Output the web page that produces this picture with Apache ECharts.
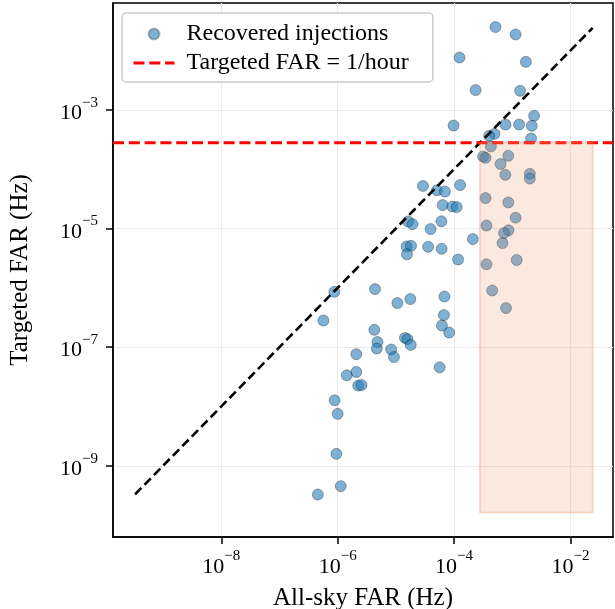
<!DOCTYPE html>
<html>
<head>
<meta charset="utf-8">
<script src="https://cdn.jsdelivr.net/npm/echarts@6/dist/echarts.min.js"></script>
<style>
  html, body { margin: 0; padding: 0; background: #ffffff; }
  #far-scatter { width: 615px; height: 609px; }
</style>
</head>
<body>
<div id="far-scatter"></div>
<script>
// all-sky FAR (Hz) of every recovered injection
const allSkyFar = [
  5.15e-4, 1.14e-3, 1.24e-4, 1.71e-3, 2.34e-4, 1.36e-3, 9.8e-5, 2.37e-3, 7.64e-4, 1.31e-3,
  2.16e-3, 2.10e-3, 4.95e-4, 4.0e-4, 4.28e-4, 3.15e-4, 3.47e-4, 8.53e-4, 6.28e-4, 7.59e-4,
  2.0e-3, 2.0e-3, 2.92e-5, 5.07e-5, 6.95e-5, 1.27e-4, 3.47e-4, 6.35e-5, 9.35e-5, 1.11e-4,
  8.53e-4, 1.14e-3, 1.63e-5, 1.93e-5, 6.05e-5, 3.95e-5, 3.6e-4, 8.61e-4, 7.21e-4, 6.79e-4,
  2.1e-4, 1.53e-5, 1.82e-5, 3.58e-5, 6.11e-5, 1.55e-5, 1.17e-4, 3.6e-4, 1.19e-3, 4.51e-4,
  7.8e-4, 8.77e-7, 5.69e-7, 4.38e-6, 1.06e-5, 1.77e-5, 6.83e-5, 6.68e-5, 6.18e-5, 8.24e-5,
  4.26e-6, 4.83e-6, 4.7e-6, 8.3e-6, 9.27e-6, 1.43e-5, 1.58e-5, 1.8e-5, 2.09e-6, 2.09e-6,
  1.43e-6, 2.25e-6, 2.57e-6, 5.64e-5, 8.85e-7, 1.0e-6, 9.5e-7, 1.13e-6, 4.56e-7
];
// targeted FAR (Hz), same order
const targetedFar = [
  2.48e-2, 1.86e-2, 7.61e-3, 6.44e-3, 2.15e-3, 2.09e-3, 5.44e-4, 7.92e-4, 5.65e-4, 5.65e-4,
  5.37e-4, 3.28e-4, 3.94e-4, 3.65e-4, 2.41e-4, 1.63e-4, 1.55e-4, 1.68e-4, 1.22e-4, 8.02e-5,
  8.34e-5, 6.93e-5, 5.2e-5, 4.4e-5, 4.18e-5, 5.38e-5, 3.25e-5, 2.48e-5, 2.34e-5, 2.29e-5,
  2.74e-5, 1.52e-5, 1.31e-5, 1.18e-5, 1.32e-5, 9.75e-6, 1.12e-5, 9.31e-6, 8.36e-6, 5.67e-6,
  6.62e-6, 4.97e-6, 5.1e-6, 4.91e-6, 4.54e-6, 3.67e-6, 3.0e-6, 2.49e-6, 2.94e-6, 9.0e-7,
  4.56e-7, 8.56e-7, 2.81e-7, 9.5e-7, 5.52e-7, 6.45e-7, 7.13e-7, 3.47e-7, 2.31e-7, 1.76e-7,
  1.96e-7, 1.22e-7, 9.48e-8, 9.12e-8, 6.79e-8, 1.43e-7, 1.36e-7, 1.09e-7, 7.62e-8, 3.81e-8,
  3.35e-8, 2.25e-8, 2.3e-8, 4.57e-8, 1.27e-8, 7.52e-9, 1.59e-9, 4.54e-10, 3.28e-10
];

const targetFar = 1 / 3600;            // 1 per hour
const diagonalEnds = [3.3e-10, 2.4e-2]; // y = x guide
const boxFarX = [1 / 3600, 2.4e-2];
const boxFarY = [1.63e-10, 1 / 3600];
const xTicks = [1e-8, 1e-6, 1e-4, 1e-2];
const yTicks = [1e-9, 1e-7, 1e-5, 1e-3];
const xRange = [Math.pow(10, -9.86), Math.pow(10, -1.27)];
const yRange = [Math.pow(10, -10.2), Math.pow(10, -1.2)];

const FONT = "Liberation Serif";

function powerLabel(value) {
  const exp = Math.round(Math.log10(value));
  return "{base|10}{exp|" + (exp < 0 ? "\u2212" + (-exp) : exp) + "}";
}

const richPow = {
  base: { fontFamily: FONT, fontSize: 22, color: "#000", verticalAlign: "bottom", padding: [7, 0, 0, 0] },
  exp: { fontFamily: FONT, fontSize: 15, color: "#000", verticalAlign: "top" },
};

const points = allSkyFar.map((x, i) => [x, targetedFar[i]]);

const options = {
  animation: false,
  backgroundColor: "#ffffff",
  grid: {
    left: 113,
    right: 2,
    top: 3,
    bottom: 72,
    outerBoundsMode: "none",
    containLabel: false,
    show: true,
    borderColor: "#000",
    borderWidth: 1.5,
  },
  legend: {
    left: 122,
    top: 13,
    orient: "vertical",
    padding: [9, 24, 7, 10],
    itemWidth: 41,
    itemHeight: 11,
    itemGap: 5,
    backgroundColor: "rgba(255,255,255,0.85)",
    borderColor: "#cccccc",
    borderWidth: 1.5,
    borderRadius: 4,
    textStyle: {
      fontFamily: FONT,
      fontSize: 24,
      lineHeight: 20,
      color: "#000",
      padding: [0, 0, 0, 7],
    },
    data: [
      { name: "Recovered injections", icon: "circle", itemStyle: { borderColor: "rgba(0,0,0,0.3)" } },
      {
        name: "Targeted FAR = 1/hour",
        itemStyle: { opacity: 0 },
        lineStyle: { color: "#ff0000", width: 3, type: [11, 4.8] },
      },
    ],
  },
  xAxis: {
    type: "log",
    logBase: 10,
    min: xRange[0],
    max: xRange[1],
    name: "All-sky FAR (Hz)",
    nameLocation: "middle",
    nameGap: 49,
    nameTextStyle: { fontFamily: FONT, fontSize: 25, color: "#000" },
    axisLine: { show: true, lineStyle: { color: "#000", width: 1.5 } },
    axisTick: { show: true, length: 7, lineStyle: { color: "#000", width: 1.5 }, customValues: xTicks },
    axisLabel: { customValues: xTicks, margin: 12, formatter: powerLabel, rich: richPow },
    minorTick: { show: false },
    splitLine: { show: true, lineStyle: { color: "#ebebeb", width: 1 } },
  },
  yAxis: {
    type: "log",
    logBase: 10,
    min: yRange[0],
    max: yRange[1],
    name: "Targeted FAR (Hz)",
    nameLocation: "middle",
    nameGap: 80,
    nameTextStyle: { fontFamily: FONT, fontSize: 25, color: "#000" },
    axisLine: { show: true, lineStyle: { color: "#000", width: 1.5 } },
    axisTick: { show: true, length: 7, lineStyle: { color: "#000", width: 1.5 }, customValues: yTicks },
    axisLabel: { customValues: yTicks, margin: 15, formatter: powerLabel, rich: richPow },
    minorTick: { show: false },
    splitLine: { show: true, lineStyle: { color: "#ebebeb", width: 1 } },
  },
  series: [
    {
      name: "Recovered injections",
      type: "scatter",
      z: 2,
      symbol: "circle",
      symbolSize: 11,
      data: points,
      itemStyle: {
        color: "rgba(31,119,180,0.72)",
        borderColor: "rgba(0,0,0,0.55)",
        borderWidth: 0.7,
      },
      markArea: {
        silent: true,
        z: 5,
        itemStyle: {
          color: "rgba(235,140,90,0.2)",
          borderColor: "rgba(235,140,90,0.35)",
          borderWidth: 1.5,
        },
        data: [[{ coord: [boxFarX[0], boxFarY[0]] }, { coord: [boxFarX[1], boxFarY[1]] }]],
      },
    },
    {
      name: "y = x",
      type: "line",
      z: 3,
      symbol: "none",
      silent: true,
      data: [[diagonalEnds[0], diagonalEnds[0]], [diagonalEnds[1], diagonalEnds[1]]],
      lineStyle: { color: "#000", width: 2.6, type: [9, 4.5] },
    },
    {
      name: "Targeted FAR = 1/hour",
      type: "line",
      z: 3,
      symbol: "none",
      silent: true,
      data: [[xRange[0], targetFar], [xRange[1], targetFar]],
      lineStyle: { color: "#ff0000", width: 3, type: [11, 4.8] },
      itemStyle: { color: "#ff0000" },
    },
  ],
};

const chart = echarts.init(document.getElementById("far-scatter"));
chart.setOption(options);
</script>
</body>
</html>
